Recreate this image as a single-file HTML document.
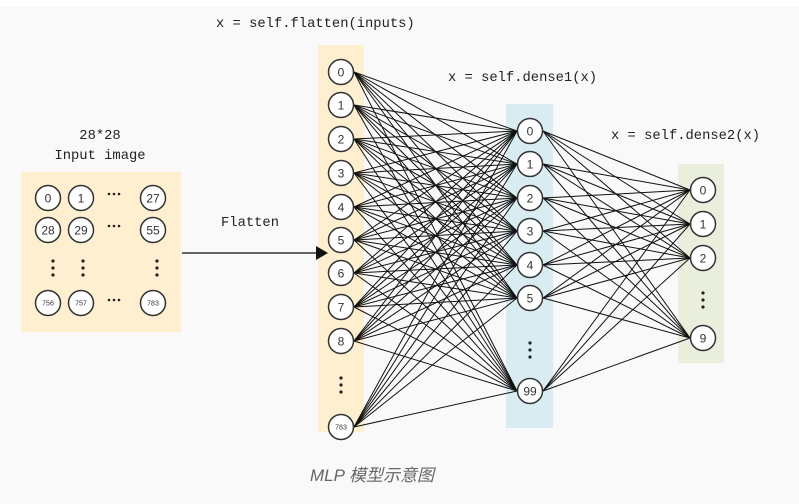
<!DOCTYPE html>
<html><head><meta charset="utf-8"><style>
html,body{margin:0;padding:0;background:#fff;}
svg{display:block}
text{font-family:"Liberation Mono",monospace;fill:#222}
.n{font-family:"Liberation Sans",sans-serif;font-size:12px;fill:#333}
</style></head><body>
<svg id="s" width="799" height="504" viewBox="0 0 799 504" xmlns="http://www.w3.org/2000/svg">
<rect x="0" y="7" width="799" height="497" fill="#f9f9f9"/>
<rect x="21" y="172" width="160" height="160" fill="#fdefcf"/>
<rect x="318" y="45" width="46" height="387" fill="#fdefcf"/>
<rect x="506" y="104" width="47" height="324" fill="#d9ecf2"/>
<rect x="678" y="164" width="46" height="199" fill="#e9eedd"/>
<g id="lines" stroke="#111" stroke-width="1"></g>
<g id="nodes"></g>
<text x="216" y="27" font-size="13.8">x = self.flatten(inputs)</text>
<text x="448" y="81" font-size="13.8">x = self.dense1(x)</text>
<text x="611" y="139" font-size="13.8">x = self.dense2(x)</text>
<text x="100" y="139" font-size="13.8" text-anchor="middle">28*28</text>
<text x="100" y="159" font-size="13.8" text-anchor="middle">Input image</text>
<text x="250" y="226" font-size="13.8" text-anchor="middle">Flatten</text>
<line x1="182" y1="253" x2="318" y2="253" stroke="#333" stroke-width="1.5"/>
<polygon points="316,246 328,253 316,260" fill="#111"/>
<text x="310" y="481" font-size="17" font-style="italic" style="font-family:'Liberation Sans','Noto Sans CJK SC',sans-serif;fill:#666">MLP 模型示意图</text>
</svg>
<script>
var NS="http://www.w3.org/2000/svg";
var L1=[72,105,139,173,207,240,273,307,341,427],L1l=["0","1","2","3","4","5","6","7","8","783"];
var L2=[131,164,198,231,265,298,391],L2l=["0","1","2","3","4","5","99"];
var L3=[190,224,258,338],L3l=["0","1","2","9"];
var lg=document.getElementById("lines"),ng=document.getElementById("nodes");
function ln(x1,y1,x2,y2){var l=document.createElementNS(NS,"line");l.setAttribute("x1",x1);l.setAttribute("y1",y1);l.setAttribute("x2",x2);l.setAttribute("y2",y2);lg.appendChild(l);}
L1.forEach(function(a){L2.forEach(function(b){ln(354,a,517,b);});});
L2.forEach(function(a){L3.forEach(function(b){ln(543,a,690,b);});});
function node(x,y,t,fs){var c=document.createElementNS(NS,"circle");c.setAttribute("cx",x);c.setAttribute("cy",y);c.setAttribute("r",12.5);c.setAttribute("fill","#fff");c.setAttribute("stroke","#333");c.setAttribute("stroke-width","1.5");ng.appendChild(c);
var tx=document.createElementNS(NS,"text");tx.setAttribute("x",x);tx.setAttribute("y",y+fs*0.36);tx.setAttribute("text-anchor","middle");tx.setAttribute("class","n");tx.setAttribute("style","font-size:"+fs+"px");tx.textContent=t;ng.appendChild(tx);}
function dots(x,y){for(var i=-1;i<=1;i++){var c=document.createElementNS(NS,"circle");c.setAttribute("cx",x);c.setAttribute("cy",y+i*7);c.setAttribute("r",1.6);c.setAttribute("fill","#222");ng.appendChild(c);}}
function hdots(x,y){for(var i=-1;i<=1;i++){var c=document.createElementNS(NS,"circle");c.setAttribute("cx",x+i*5);c.setAttribute("cy",y);c.setAttribute("r",1.3);c.setAttribute("fill","#222");ng.appendChild(c);}}
L1.forEach(function(y,i){node(341,y,L1l[i],L1l[i].length>2?7:12);});
L2.forEach(function(y,i){node(530,y,L2l[i],12);});
L3.forEach(function(y,i){node(703,y,L3l[i],12);});
dots(341,385);dots(530,350);dots(703,300);
node(48,198,"0",12);node(81,198,"1",12);node(153,198,"27",12);
node(48,230,"28",12);node(81,230,"29",12);node(153,230,"55",12);
node(48,303,"756",7);node(81,303,"757",7);node(153,303,"783",7);
hdots(114,194);hdots(114,226);hdots(114,300);
dots(53,268);dots(83,268);dots(157,268);
</script>
</body></html>
